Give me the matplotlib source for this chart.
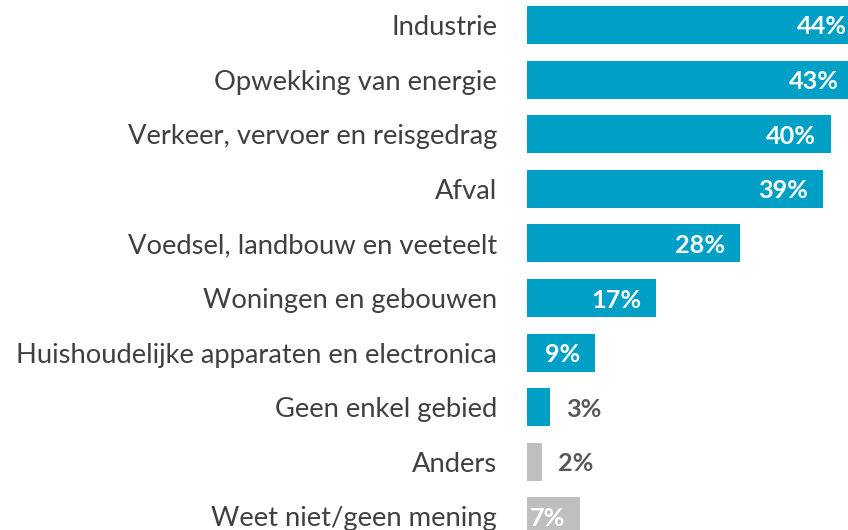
import matplotlib
matplotlib.use("Agg")
import matplotlib.pyplot as plt

categories = [
    "Industrie",
    "Opwekking van energie",
    "Verkeer, vervoer en reisgedrag",
    "Afval",
    "Voedsel, landbouw en veeteelt",
    "Woningen en gebouwen",
    "Huishoudelijke apparaten en electronica",
    "Geen enkel gebied",
    "Anders",
    "Weet niet/geen mening",
]
values = [44, 43, 40, 39, 28, 17, 9, 3, 2, 7]
value_labels = ["44%", "43%", "40%", "39%", "28%", "17%", "9%", "3%", "2%", "7%"]
is_other = [False, False, False, False, False, False, False, False, True, True]

BLUE = "#00A0C6"
GREY = "#BFBFBF"
TEXT = "#404040"
VAL_OUT = "#595959"

plt.rcParams['font.family'] = ['Lato', 'DejaVu Sans']

W, H = 848, 530
fig = plt.figure(figsize=(W / 100, H / 100), dpi=100)
x0 = 527
ax = fig.add_axes([x0 / W, 0, 1 - x0 / W, 1])
px_per_unit = 7.6
ax.set_xlim(0, (W - x0) / px_per_unit)
spacing = 54.6
top_center = 25
ax.set_ylim((H - top_center) / spacing, -top_center / spacing)
ax.axis("off")

ypos = list(range(len(categories)))
colors = [GREY if o else BLUE for o in is_other]
ax.barh(ypos, values, height=38 / spacing, color=colors)

renderer = fig.canvas.get_renderer()
# category labels
label_fs = 20
tmp = fig.text(0, 0, max(categories, key=len), fontsize=label_fs)
w = tmp.get_window_extent(renderer).width
fig.texts.remove(tmp)
label_fs = label_fs * 484 / w

for y, c in zip(ypos, categories):
    ax.annotate(c, xy=(0, y), xytext=(-30 * 0.72, 0), textcoords="offset points",
                ha="right", va="center_baseline", fontsize=label_fs, color=TEXT)

val_fs = 20
tmp = fig.text(0, 0, "39%", fontsize=val_fs, fontweight="bold")
w = tmp.get_window_extent(renderer).width
fig.texts.remove(tmp)
val_fs = val_fs * 50 / w

for y, v, lab in zip(ypos, values, value_labels):
    if v >= 5:
        ax.annotate(lab, xy=(v, y), xytext=(-15 * 0.72, 0), textcoords="offset points",
                    ha="right", va="center_baseline", fontsize=val_fs, fontweight="bold",
                    color="white", annotation_clip=False)
    else:
        ax.annotate(lab, xy=(v, y), xytext=(16 * 0.72, 0), textcoords="offset points",
                    ha="left", va="center_baseline", fontsize=val_fs, fontweight="bold",
                    color=VAL_OUT)

fig.savefig("out.png", dpi=100)
